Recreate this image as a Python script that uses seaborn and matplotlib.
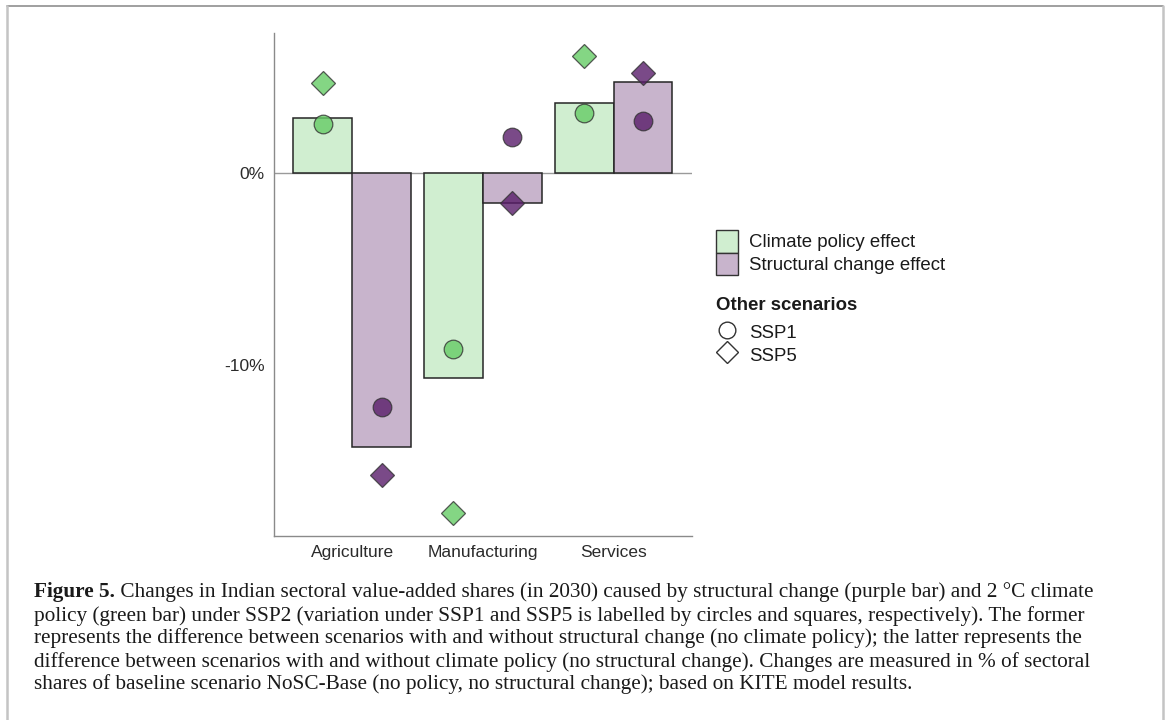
import numpy as np
import pandas as pd
import matplotlib
matplotlib.use("Agg")
import matplotlib.pyplot as plt
import seaborn as sns
from matplotlib.patches import Patch
from matplotlib.lines import Line2D

# ---------------- data ----------------
sectors = ["Agriculture", "Manufacturing", "Services"]
effects = ["Climate policy effect", "Structural change effect"]
climate_ssp2 = [2.86, -10.70, 3.62]
structural_ssp2 = [-14.26, -1.60, 4.71]
climate_ssp1 = [2.55, -9.18, 3.13]
structural_ssp1 = [-12.19, 1.84, 2.69]
climate_ssp5 = [4.69, -17.74, 6.09]
structural_ssp5 = [-15.76, -1.56, 5.18]
y_ticks = [0, -10]
y_tick_labels = ["0%", "-10%"]
scenario_labels = ["SSP1", "SSP5"]
legend2_title = "Other scenarios"

caption_bold = "Figure 5."
caption_lines = [
    " Changes in Indian sectoral value-added shares (in 2030) caused by structural change (purple bar) and 2 \u00b0C climate",
    "policy (green bar) under SSP2 (variation under SSP1 and SSP5 is labelled by circles and squares, respectively). The former",
    "represents the difference between scenarios with and without structural change (no climate policy); the latter represents the",
    "difference between scenarios with and without climate policy (no structural change). Changes are measured in % of sectoral",
    "shares of baseline scenario NoSC-Base (no policy, no structural change); based on KITE model results.",
]


def frame(climate, structural):
    return pd.DataFrame({
        "sector": sectors * 2,
        "effect": [effects[0]] * 3 + [effects[1]] * 3,
        "value": list(climate) + list(structural),
    })


bars = frame(climate_ssp2, structural_ssp2)
ssp1 = frame(climate_ssp1, structural_ssp1)
ssp5 = frame(climate_ssp5, structural_ssp5)

# ---------------- style ----------------
bar_green = "#d0eed0"
bar_purple = "#c8b4cc"
pt_green = "#66cc66"
pt_purple = "#591d6a"
edge_dark = "#262626"
axis_grey = "#8a8a8a"
text_col = "#1a1a1a"

sns.set_style("white")
plt.rcParams["font.family"] = ["Liberation Sans", "DejaVu Sans"]

W, H = 1168, 720
fig = plt.figure(figsize=(W / 100, H / 100), dpi=100)
fig.patch.set_facecolor("white")

def fx(px):
    return px / W

def fy(py):
    return 1 - py / H

ax_left, ax_right, ax_top, ax_bottom = 273.7, 692.0, 33.3, 536.0
ax = fig.add_axes([fx(ax_left), fy(ax_bottom), (ax_right - ax_left) / W, (ax_bottom - ax_top) / H])

ax.axhline(0, color="#9a9a9a", lw=1.0, zorder=0.9)

sns.barplot(data=bars, x="sector", y="value", hue="effect", order=sectors,
            hue_order=effects, palette=[bar_green, bar_purple], width=0.9,
            saturation=1, edgecolor=edge_dark, linewidth=1.1, errorbar=None,
            legend=False, ax=ax, zorder=1)

for df, mk, ms in [(ssp1, "o", 13.4), (ssp5, "D", 11.8)]:
    sns.pointplot(data=df, x="sector", y="value", hue="effect", order=sectors,
                  hue_order=effects, palette=[pt_green, pt_purple], dodge=0.45,
                  markers=mk, linestyles="none", errorbar=None, legend=False,
                  markersize=ms, markeredgecolor="#333333", markeredgewidth=0.9,
                  alpha=0.8, ax=ax)

ax.set_xlim(-0.6, 2.6)
ax.set_ylim(-18.92, 7.26)
ax.set_yticks(y_ticks)
ax.set_yticklabels(y_tick_labels)
ax.set_xlabel("")
ax.set_ylabel("")
sns.despine(ax=ax)
for s in ["left", "bottom"]:
    ax.spines[s].set_color(axis_grey)
    ax.spines[s].set_linewidth(1.0)
ax.tick_params(axis="both", length=3, width=0.9, color=axis_grey,
               labelsize=12.5, labelcolor="#2b2b2b", pad=3.5)

# ---------------- legends ----------------
leg_fs = 13.4
h1 = [Patch(facecolor=bar_green, edgecolor="#333333", lw=1.0),
      Patch(facecolor=bar_purple, edgecolor="#333333", lw=1.0)]
leg1 = ax.legend(h1, effects, loc="upper left",
                 bbox_to_anchor=(fx(716), fy(230)), bbox_transform=fig.transFigure,
                 frameon=False, borderpad=0, borderaxespad=0, labelspacing=0,
                 handlelength=1.18, handleheight=1.5, handletextpad=0.6,
                 prop={"size": leg_fs}, labelcolor=text_col)
ax.add_artist(leg1)

h2 = [Line2D([], [], marker="o", ls="none", ms=12, mfc="white", mec="#333333", mew=1.0),
      Line2D([], [], marker="D", ls="none", ms=11, mfc="white", mec="#333333", mew=1.0)]
leg2 = ax.legend(h2, scenario_labels, loc="upper left",
                 bbox_to_anchor=(fx(716), fy(321)), bbox_transform=fig.transFigure,
                 frameon=False, borderpad=0, borderaxespad=0, labelspacing=0,
                 handlelength=1.18, handleheight=1.5, handletextpad=0.6,
                 prop={"size": leg_fs}, labelcolor=text_col)
fig.text(fx(716), fy(305), legend2_title, fontsize=leg_fs, fontweight="bold",
         color=text_col, ha="left", va="center")

# ---------------- border ----------------
fig.add_artist(Line2D([fx(7), fx(1163)], [fy(6), fy(6)], transform=fig.transFigure,
                      color="#8f8f8f", lw=1.2))
fig.add_artist(Line2D([fx(7), fx(7)], [fy(6), fy(722)], transform=fig.transFigure,
                      color="#c4c4c4", lw=1.8))
fig.add_artist(Line2D([fx(1163), fx(1163)], [fy(6), fy(722)], transform=fig.transFigure,
                      color="#c4c4c4", lw=1.8))

# ---------------- caption ----------------
serif = ["Liberation Serif", "DejaVu Serif"]
renderer = fig.canvas.get_renderer()
probe_b = fig.text(0, 0, caption_bold, fontsize=14, family=serif, fontweight="bold")
probe_r = fig.text(0, 0, caption_lines[0], fontsize=14, family=serif)
wtot = probe_b.get_window_extent(renderer).width + probe_r.get_window_extent(renderer).width
probe_b.remove()
probe_r.remove()
cap_fs = 14 * (1102 - 34) / wtot

x0 = 34
base0 = 597.5
step = 23
tb = fig.text(fx(x0), fy(base0), caption_bold, fontsize=cap_fs, family=serif,
              fontweight="bold", color=text_col, ha="left", va="baseline")
bw = tb.get_window_extent(renderer).width
for i, line in enumerate(caption_lines):
    xx = x0 + bw if i == 0 else x0
    fig.text(fx(xx), fy(base0 + i * step), line, fontsize=cap_fs, family=serif,
             color=text_col, ha="left", va="baseline")

fig.savefig("out.png", dpi=100, facecolor="white")
